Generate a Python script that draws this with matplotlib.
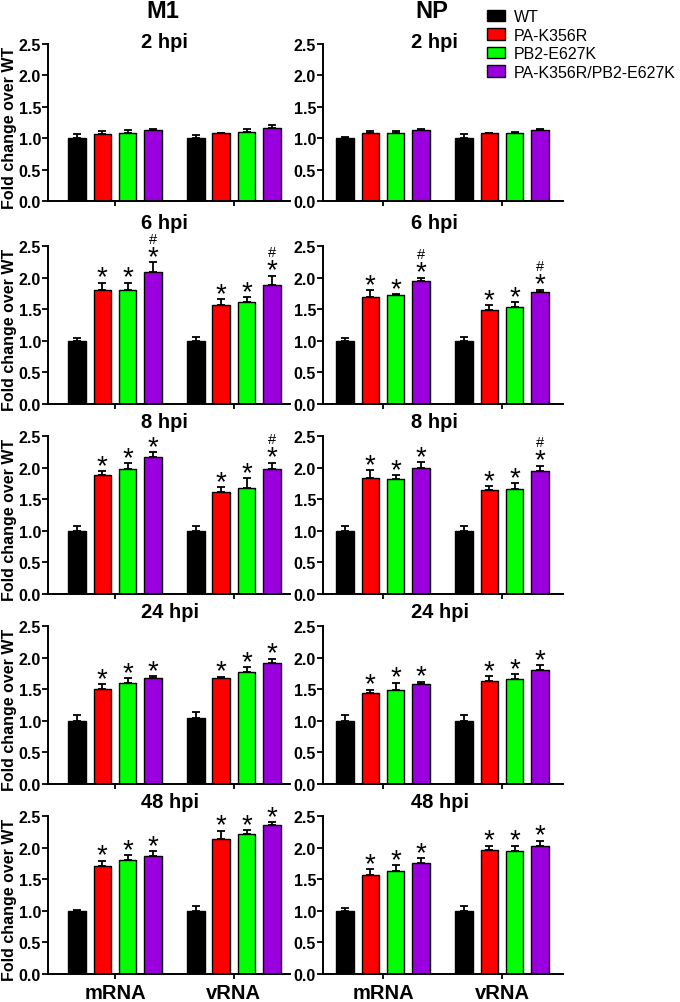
import matplotlib
matplotlib.use("Agg")
import matplotlib.pyplot as plt
import numpy as np
from matplotlib.patches import Patch

plt.rcParams['font.family'] = ['Liberation Sans', 'DejaVu Sans']

strains = ["WT", "PA-K356R", "PB2-E627K", "PA-K356R/PB2-E627K"]
colors = ["#000000", "#FF0000", "#00FF00", "#9900DD"]
groups = ["mRNA", "vRNA"]
genes = ["M1", "NP"]
timepoints = ["2 hpi", "6 hpi", "8 hpi", "24 hpi", "48 hpi"]

# means[time] = [mRNA values (4 strains), vRNA values (4 strains)]
m1_mean = [
    [[1.00, 1.07, 1.09, 1.13], [1.00, 1.08, 1.10, 1.16]],
    [[1.00, 1.80, 1.81, 2.09], [1.00, 1.56, 1.61, 1.89]],
    [[1.00, 1.89, 1.97, 2.17], [1.00, 1.61, 1.67, 1.98]],
    [[1.00, 1.51, 1.60, 1.68], [1.04, 1.67, 1.77, 1.92]],
    [[1.00, 1.71, 1.80, 1.87], [1.00, 2.14, 2.21, 2.35]],
]
m1_err = [
    [[0.06, 0.05, 0.04, 0.01], [0.05, 0.01, 0.05, 0.05]],
    [[0.05, 0.12, 0.11, 0.15], [0.06, 0.10, 0.08, 0.14]],
    [[0.07, 0.05, 0.10, 0.07], [0.08, 0.08, 0.16, 0.10]],
    [[0.09, 0.07, 0.07, 0.03], [0.10, 0.03, 0.08, 0.06]],
    [[0.02, 0.08, 0.08, 0.07], [0.07, 0.13, 0.07, 0.05]],
]
np_mean = [
    [[1.00, 1.08, 1.08, 1.13], [1.00, 1.08, 1.09, 1.13]],
    [[1.00, 1.69, 1.72, 1.94], [1.00, 1.49, 1.54, 1.78]],
    [[1.00, 1.84, 1.82, 2.00], [1.00, 1.64, 1.66, 1.94]],
    [[1.00, 1.44, 1.49, 1.58], [1.00, 1.63, 1.66, 1.81]],
    [[1.00, 1.57, 1.63, 1.76], [1.00, 1.96, 1.95, 2.02]],
]
np_err = [
    [[0.02, 0.04, 0.04, 0.01], [0.06, 0.01, 0.01, 0.02]],
    [[0.05, 0.11, 0.02, 0.06], [0.06, 0.07, 0.07, 0.03]],
    [[0.07, 0.12, 0.06, 0.09], [0.08, 0.07, 0.09, 0.09]],
    [[0.09, 0.05, 0.11, 0.04], [0.09, 0.08, 0.08, 0.07]],
    [[0.05, 0.09, 0.09, 0.07], [0.07, 0.07, 0.08, 0.09]],
]
# significance: star_rows[time] applies to non-WT bars; hash_marks[time][gene][group] on double mutant
star_rows = [False, True, True, True, True]
hash_marks = [
    [[False, False], [False, False]],
    [[True, True], [True, True]],
    [[False, True], [False, True]],
    [[False, False], [False, False]],
    [[False, False], [False, False]],
]

W, H = 680, 1003
fig = plt.figure(figsize=(W / 100, H / 100), dpi=100)

row_top = [45, 247, 437, 627, 817]
row_bot = [202, 405, 595, 785, 975]
col_x = [(48, 290), (323, 563)]
col_xlim = [(-2.65, 6.92), (-2.37, 7.11)]
title_x = [141, 411]
title_y = [43, 224, 423, 613, 803]
gap = 4.7
bw = 0.69

for r in range(5):
    for c in range(2):
        x0, x1 = col_x[c]
        ax = fig.add_axes([x0 / W, 1 - row_bot[r] / H, (x1 - x0) / W, (row_bot[r] - row_top[r]) / H])
        means = (m1_mean if c == 0 else np_mean)[r]
        errs = (m1_err if c == 0 else np_err)[r]
        for g in range(2):
            xs = g * gap + np.arange(4) - 1.5
            ax.bar(xs, means[g], width=bw, color=colors, edgecolor='black', linewidth=1.0, zorder=2)
            ax.errorbar(xs, means[g], yerr=[np.zeros(4), errs[g]], fmt='none', ecolor='black',
                        elinewidth=1.3, capsize=3.2, capthick=1.3, zorder=3)
            tops = np.array(means[g]) + np.array(errs[g])
            if star_rows[r]:
                for i in range(1, 4):
                    ax.annotate('*', xy=(xs[i], tops[i]), xytext=(0, -1.3), textcoords='offset points',
                                ha='center', va='baseline', fontsize=20, annotation_clip=False)
            if hash_marks[r][c][g]:
                ax.annotate('#', xy=(xs[3], tops[3]), xytext=(0, 14.3), textcoords='offset points',
                            ha='center', va='baseline', fontsize=10.5, annotation_clip=False)
        ax.set_xlim(*col_xlim[c])
        ax.set_ylim(0, 2.5)
        ax.set_yticks([0, 0.5, 1.0, 1.5, 2.0, 2.5])
        ax.set_yticklabels(['0.0', '0.5', '1.0', '1.5', '2.0', '2.5'], fontweight='bold', fontsize=11.5)
        ax.set_xticks([0, gap])
        if r == 4:
            ax.set_xticklabels(groups, fontweight='bold', fontsize=14.5)
        else:
            ax.set_xticklabels([])
        ax.tick_params(axis='y', length=4, width=1.3, pad=1)
        ax.tick_params(axis='x', length=3.5, width=1.3, pad=3)
        for s in ['top', 'right']:
            ax.spines[s].set_visible(False)
        for s in ['left', 'bottom']:
            ax.spines[s].set_linewidth(1.4)
        if c == 0:
            fig.text(10 / W, 1 - (row_top[r] + row_bot[r]) / 2 / H - 4 / H, 'Fold change over WT',
                     rotation=90, ha='center', va='center', fontweight='bold', fontsize=11.5)
        fig.text(title_x[c] / W, 1 - title_y[r] / H, timepoints[r], ha='left', va='center',
                 fontweight='bold', fontsize=14.5)

fig.text(163 / W, 1 - 12 / H, genes[0], ha='center', va='center', fontweight='bold', fontsize=17)
fig.text(432 / W, 1 - 12 / H, genes[1], ha='center', va='center', fontweight='bold', fontsize=17)

handles = [Patch(facecolor=col, edgecolor='black', linewidth=1.0) for col in colors]
fig.legend(handles, strains, loc='upper left', bbox_to_anchor=(487 / W, 1 - 10 / H), frameon=False,
           fontsize=11.5, handlelength=1.15, handleheight=0.75, handletextpad=0.55,
           labelspacing=0.22, borderpad=0, borderaxespad=0)

fig.savefig('out.png', dpi=100)
